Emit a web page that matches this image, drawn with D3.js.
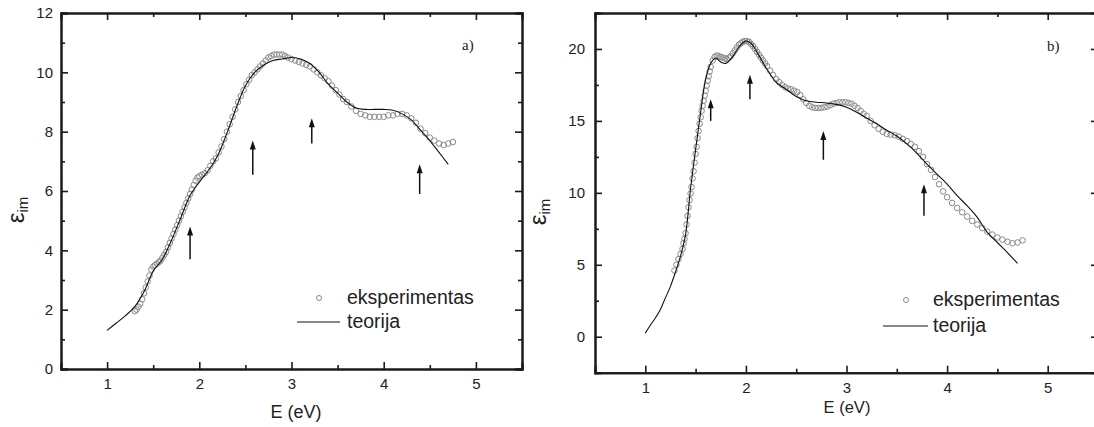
<!DOCTYPE html>
<html><head><meta charset="utf-8">
<script src="https://cdn.jsdelivr.net/npm/d3@7"></script>
<style>
body{margin:0;background:#fff;}
svg{display:block;font-family:"Liberation Sans",Arial,sans-serif;}
</style></head>
<body><svg id="c" width="1094" height="427"></svg>
<script>
// ---------- DATA ----------
const xTicks = [1,2,3,4,5];
const xMinor = [1.5,2.5,3.5,4.5];
const yTicksA = [0,2,4,6,8,10,12];
const yMinorA = [1,3,5,7,9,11];
const yTicksB = [0,5,10,15,20];
const yMinorB = [-2.5,2.5,7.5,12.5,17.5,22.5];

// Panel a) theory
const thA_E = [1.0,1.1,1.2,1.3,1.4,1.5,1.6,1.7,1.8,1.9,2.0,2.1,2.2,2.3,2.4,2.5,2.6,2.7,2.8,2.9,3.0,3.1,3.2,3.3,3.4,3.5,3.6,3.7,3.8,3.9,4.0,4.1,4.2,4.3,4.4,4.5,4.6,4.7];
const thA_V = [1.3,1.55,1.8,2.1,2.6,3.3,3.7,4.35,5.1,5.85,6.3,6.7,7.2,7.95,8.8,9.55,10.0,10.25,10.4,10.45,10.5,10.45,10.3,10.0,9.6,9.3,9.0,8.8,8.75,8.75,8.75,8.72,8.6,8.4,8.05,7.7,7.3,6.9];
// Panel a) experiment
const expA_E = [1.30,1.32,1.34,1.36,1.38,1.40,1.42,1.44,1.46,1.48,1.50,1.52,1.54,1.56,1.58,1.60,1.62,1.64,1.66,1.68,1.70,1.72,1.74,1.76,1.78,1.80,1.82,1.84,1.86,1.88,1.90,1.92,1.94,1.96,1.98,2.00,2.03,2.06,2.09,2.12,2.15,2.18,2.21,2.24,2.27,2.30,2.33,2.36,2.39,2.42,2.45,2.48,2.51,2.54,2.57,2.60,2.63,2.66,2.69,2.72,2.75,2.78,2.81,2.84,2.87,2.90,2.93,2.96,3.00,3.04,3.08,3.12,3.16,3.20,3.24,3.28,3.32,3.36,3.40,3.44,3.48,3.52,3.56,3.60,3.65,3.70,3.75,3.80,3.85,3.90,3.95,4.00,4.05,4.10,4.15,4.20,4.25,4.30,4.35,4.40,4.45,4.50,4.55,4.60,4.65,4.70,4.75];
const expA_V = [1.95,2.0,2.1,2.2,2.35,2.55,2.75,2.95,3.15,3.35,3.45,3.5,3.55,3.6,3.65,3.75,3.85,3.95,4.1,4.25,4.4,4.55,4.7,4.85,5.0,5.15,5.3,5.45,5.6,5.75,5.9,6.05,6.2,6.35,6.45,6.5,6.55,6.6,6.7,6.85,7.0,7.1,7.3,7.5,7.75,8.0,8.25,8.5,8.75,9.0,9.2,9.4,9.6,9.75,9.9,10.0,10.1,10.2,10.3,10.4,10.5,10.55,10.6,10.6,10.6,10.6,10.55,10.5,10.45,10.4,10.35,10.3,10.25,10.2,10.1,10.0,9.9,9.8,9.7,9.55,9.4,9.25,9.1,9.0,8.85,8.7,8.6,8.55,8.5,8.5,8.5,8.5,8.55,8.55,8.6,8.6,8.55,8.45,8.3,8.1,7.95,7.8,7.7,7.6,7.55,7.6,7.65];
const arrA_E = [1.9,2.58,3.22,4.39];
const arrA_from = [3.7,6.55,7.6,5.9];
const arrA_to = [4.8,7.7,8.45,6.9];

// Panel b) theory
const thB_E = [1.0,1.05,1.1,1.15,1.2,1.25,1.3,1.35,1.4,1.45,1.5,1.55,1.6,1.65,1.7,1.75,1.8,1.85,1.9,1.95,2.0,2.05,2.1,2.2,2.3,2.4,2.5,2.6,2.7,2.8,2.9,3.0,3.1,3.2,3.3,3.4,3.5,3.6,3.7,3.8,3.9,4.0,4.1,4.2,4.3,4.4,4.5,4.6,4.7];
const thB_V = [0.25,0.8,1.3,1.9,2.7,3.5,4.5,5.6,7.1,10.3,13.0,15.6,17.9,19.0,19.35,19.1,19.0,19.3,19.8,20.3,20.55,20.4,19.9,18.7,17.7,17.2,16.7,16.4,16.3,16.25,16.15,15.95,15.6,15.2,14.8,14.35,13.95,13.4,12.75,12.0,11.3,10.6,9.8,9.1,8.3,7.25,6.55,5.85,5.1];
// Panel b) experiment
const expB_E = [1.29,1.31,1.33,1.35,1.37,1.38,1.39,1.40,1.41,1.42,1.43,1.44,1.45,1.46,1.47,1.48,1.49,1.50,1.51,1.52,1.53,1.54,1.55,1.56,1.57,1.58,1.59,1.60,1.61,1.62,1.63,1.64,1.65,1.67,1.69,1.71,1.73,1.75,1.77,1.79,1.81,1.83,1.85,1.87,1.89,1.91,1.93,1.95,1.97,1.99,2.01,2.03,2.05,2.07,2.09,2.11,2.13,2.15,2.17,2.19,2.21,2.24,2.27,2.30,2.33,2.36,2.39,2.42,2.45,2.48,2.51,2.54,2.57,2.60,2.63,2.66,2.69,2.72,2.75,2.78,2.81,2.84,2.87,2.90,2.93,2.96,2.99,3.02,3.05,3.08,3.11,3.14,3.17,3.20,3.24,3.28,3.32,3.36,3.40,3.44,3.48,3.52,3.56,3.60,3.64,3.68,3.72,3.76,3.80,3.84,3.88,3.92,3.96,4.00,4.05,4.10,4.15,4.20,4.25,4.30,4.35,4.40,4.45,4.50,4.55,4.60,4.65,4.70,4.75];
const expB_V = [4.6,5.0,5.4,5.75,6.1,6.5,6.8,7.2,7.8,8.4,9.0,9.5,9.95,10.4,11.0,11.5,12.1,12.7,13.2,13.8,14.3,14.8,15.25,15.7,16.05,16.4,16.75,17.1,17.45,17.8,18.1,18.45,18.75,19.2,19.45,19.55,19.5,19.45,19.4,19.35,19.3,19.4,19.5,19.7,19.9,20.1,20.3,20.4,20.5,20.55,20.55,20.5,20.35,20.2,20.0,19.8,19.6,19.4,19.2,19.0,18.8,18.5,18.2,17.9,17.7,17.5,17.35,17.25,17.2,17.1,17.0,16.8,16.5,16.25,16.05,15.95,15.9,15.9,15.9,15.95,16.0,16.1,16.2,16.25,16.3,16.3,16.3,16.25,16.2,16.05,15.9,15.7,15.5,15.35,15.0,14.7,14.45,14.25,14.1,14.05,14.0,13.9,13.75,13.6,13.4,13.2,12.9,12.5,12.0,11.6,11.1,10.6,10.1,9.7,9.3,8.95,8.65,8.35,8.05,7.8,7.55,7.3,7.1,6.9,6.75,6.6,6.5,6.55,6.7];
const arrB_E = [1.65,2.04,2.77,3.77];
const arrB_from = [15.0,16.5,12.3,8.4];
const arrB_to = [16.5,18.2,14.3,10.6];

const legendLabels = ["eksperimentas","teorija"];

// ---------- DRAW ----------
const svg = d3.select("#c");
const AX = "#1a1a1a";

function panel(cfg){
  const g = svg.append("g");
  const x = d3.scaleLinear().domain([0.5,5.5]).range([cfg.x0,cfg.x1]);
  const y = d3.scaleLinear().domain(cfg.yDom).range([cfg.y0,cfg.y1]);

  function styleAxis(sel){
    sel.selectAll(".domain").attr("stroke",AX).attr("stroke-width",2);
    sel.selectAll(".tick line").attr("stroke",AX).attr("stroke-width",1.6);
    sel.selectAll("text").attr("fill","#222").style("font-size",cfg.tickFont+"px")
       .style("font-family","'Liberation Sans',Arial,sans-serif");
  }
  g.append("g").attr("transform",`translate(0,${cfg.y0})`)
    .call(d3.axisBottom(x).tickValues(xTicks).tickSize(-7).tickPadding(cfg.xPad).tickFormat(d3.format("d"))).call(styleAxis);
  g.append("g").attr("transform",`translate(0,${cfg.y0})`)
    .call(d3.axisBottom(x).tickValues(xMinor).tickSize(-4).tickFormat("")).call(styleAxis);
  g.append("g").attr("transform",`translate(0,${cfg.y1})`)
    .call(d3.axisTop(x).tickValues(xTicks).tickSize(-7).tickFormat("")).call(styleAxis);
  g.append("g").attr("transform",`translate(0,${cfg.y1})`)
    .call(d3.axisTop(x).tickValues(xMinor).tickSize(-4).tickFormat("")).call(styleAxis);
  g.append("g").attr("transform",`translate(${cfg.x0},0)`)
    .call(d3.axisLeft(y).tickValues(cfg.yTicks).tickSize(-7).tickPadding(cfg.yPad).tickFormat(d3.format("d"))).call(styleAxis);
  g.append("g").attr("transform",`translate(${cfg.x0},0)`)
    .call(d3.axisLeft(y).tickValues(cfg.yMinor).tickSize(-4).tickFormat("")).call(styleAxis);
  g.append("g").attr("transform",`translate(${cfg.x1},0)`)
    .call(d3.axisRight(y).tickValues(cfg.yTicks).tickSize(-7).tickFormat("")).call(styleAxis);
  g.append("g").attr("transform",`translate(${cfg.x1},0)`)
    .call(d3.axisRight(y).tickValues(cfg.yMinor).tickSize(-4).tickFormat("")).call(styleAxis);

  const expData = cfg.expE.map((e,i)=>[e,cfg.expV[i]]);
  g.append("g").selectAll("circle").data(expData).join("circle")
    .attr("cx",d=>x(d[0])).attr("cy",d=>y(d[1])).attr("r",2.8)
    .attr("fill","none").attr("stroke","#8a8a8a").attr("stroke-width",1);
  const thData = cfg.thE.map((e,i)=>[e,cfg.thV[i]]);
  g.append("path").datum(thData)
    .attr("d",d3.line().x(d=>x(d[0])).y(d=>y(d[1])).curve(d3.curveCatmullRom.alpha(0.5)))
    .attr("fill","none").attr("stroke","#111").attr("stroke-width",1.1);

  cfg.arrE.forEach((e,i)=>{
    const ax = x(e), yt = y(cfg.arrFrom[i]), yh = y(cfg.arrTo[i]);
    g.append("line").attr("x1",ax).attr("x2",ax).attr("y1",yt).attr("y2",yh+8)
      .attr("stroke","#111").attr("stroke-width",1.5);
    g.append("path").attr("d",`M${ax},${yh} L${ax-3},${yh+9} L${ax+3},${yh+9} Z`).attr("fill","#111");
  });

  g.append("text").attr("x",cfg.xtX).attr("y",cfg.xtY).attr("text-anchor","middle")
    .style("font-size",cfg.titleFont+"px").attr("fill","#222").text("E (eV)");
  const yl = g.append("text").attr("transform",`translate(${cfg.ytX},${cfg.ytY}) rotate(-90)`)
    .attr("text-anchor","middle").attr("fill","#222");
  yl.append("tspan").style("font-size","24px").text("ε");
  yl.append("tspan").style("font-size","15px").attr("dy",4).text("im");

  g.append("text").attr("x",cfg.plX).attr("y",cfg.plY)
    .style("font-family","'Liberation Serif','Times New Roman',serif").style("font-size","15px")
    .attr("fill","#222").text(cfg.panelLabel);

  g.append("circle").attr("cx",cfg.lg.cx).attr("cy",cfg.lg.cy).attr("r",2.5)
    .attr("fill","none").attr("stroke","#8a8a8a").attr("stroke-width",1);
  g.append("text").attr("x",cfg.lg.tx).attr("y",cfg.lg.cy+6).style("font-size","19.5px").attr("fill","#222").text(legendLabels[0]);
  g.append("line").attr("x1",cfg.lg.lx0).attr("x2",cfg.lg.lx1).attr("y1",cfg.lg.ly).attr("y2",cfg.lg.ly)
    .attr("stroke","#111").attr("stroke-width",1.1);
  g.append("text").attr("x",cfg.lg.tx).attr("y",cfg.lg.ly+6).style("font-size","19.5px").attr("fill","#222").text(legendLabels[1]);
}

panel({x0:61,x1:522,y0:369,y1:13,yDom:[0,12],yTicks:yTicksA,yMinor:yMinorA,
  tickFont:15,xPad:9,yPad:8,titleFont:18,
  expE:expA_E,expV:expA_V,thE:thA_E,thV:thA_V,arrE:arrA_E,arrFrom:arrA_from,arrTo:arrA_to,
  xtX:296,xtY:418,ytX:24,ytY:210,plX:462,plY:50,panelLabel:"a)",
  lg:{cx:319,cy:298,tx:347,lx0:297,lx1:340,ly:322}});

panel({x0:595,x1:1098,y0:372.7,y1:13,yDom:[-2.5,22.5],yTicks:yTicksB,yMinor:yMinorB,
  tickFont:15,xPad:10,yPad:10,titleFont:16.5,
  expE:expB_E,expV:expB_V,thE:thB_E,thV:thB_V,arrE:arrB_E,arrFrom:arrB_from,arrTo:arrB_to,
  xtX:847,xtY:413,ytX:546,ytY:212,plX:1047,plY:51,panelLabel:"b)",
  lg:{cx:906,cy:300,tx:933,lx0:883,lx1:928,ly:326}});
</script></body></html>
